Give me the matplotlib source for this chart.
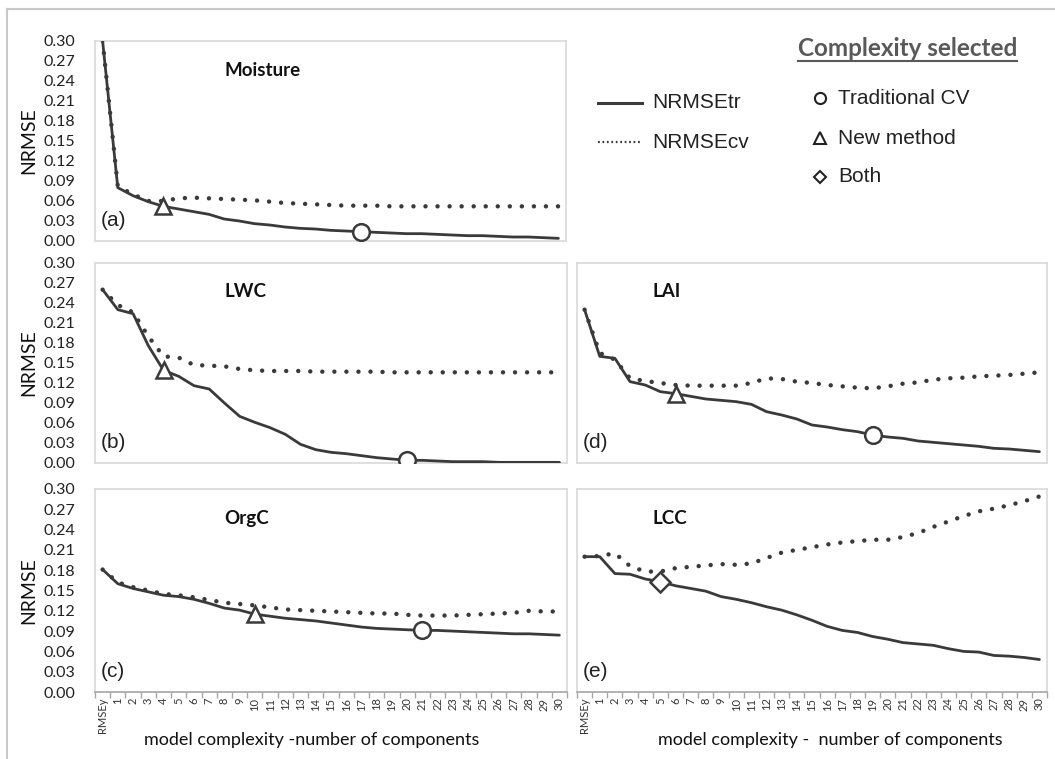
import numpy as np
import matplotlib
matplotlib.use("Agg")
import matplotlib.pyplot as plt

# categories on the x axis
cats = ["RMSEy"] + [str(i) for i in range(1, 31)]

# (a) Moisture
moist_tr = [0.300, 0.080, 0.068, 0.059, 0.052, 0.048, 0.044, 0.040, 0.033, 0.030, 0.026,
            0.024, 0.021, 0.019, 0.018, 0.016, 0.015, 0.014, 0.013, 0.012, 0.011,
            0.011, 0.010, 0.009, 0.008, 0.008, 0.007, 0.006, 0.006, 0.005, 0.004]
moist_cv = [0.300, 0.082, 0.070, 0.060, 0.060, 0.064, 0.065, 0.064, 0.063, 0.062, 0.061,
            0.059, 0.057, 0.056, 0.055, 0.054, 0.053, 0.053, 0.053, 0.052, 0.052,
            0.052, 0.052, 0.052, 0.052, 0.052, 0.052, 0.052, 0.052, 0.052, 0.052]
# (b) LWC
lwc_tr = [0.260, 0.230, 0.224, 0.176, 0.139, 0.130, 0.116, 0.111, 0.090, 0.070, 0.061,
          0.053, 0.043, 0.028, 0.020, 0.016, 0.014, 0.011, 0.008, 0.006, 0.004,
          0.004, 0.003, 0.002, 0.002, 0.002, 0.001, 0.001, 0.001, 0.001, 0.001]
lwc_cv = [0.260, 0.237, 0.226, 0.190, 0.160, 0.158, 0.147, 0.146, 0.145, 0.141, 0.139,
          0.138, 0.138, 0.138, 0.137, 0.137, 0.137, 0.137, 0.137, 0.136, 0.136,
          0.136, 0.136, 0.136, 0.136, 0.136, 0.136, 0.136, 0.136, 0.136, 0.136]
# (c) OrgC
orgc_tr = [0.181, 0.160, 0.153, 0.148, 0.143, 0.141, 0.137, 0.131, 0.124, 0.121, 0.115,
           0.112, 0.109, 0.107, 0.105, 0.102, 0.099, 0.096, 0.094, 0.093, 0.092,
           0.091, 0.091, 0.090, 0.089, 0.088, 0.087, 0.086, 0.086, 0.085, 0.084]
orgc_cv = [0.181, 0.162, 0.155, 0.150, 0.145, 0.143, 0.140, 0.136, 0.132, 0.130, 0.128,
           0.125, 0.122, 0.121, 0.120, 0.119, 0.118, 0.117, 0.116, 0.116, 0.114,
           0.113, 0.113, 0.113, 0.114, 0.115, 0.116, 0.117, 0.120, 0.119, 0.119]
# (d) LAI
lai_tr = [0.230, 0.160, 0.157, 0.122, 0.117, 0.107, 0.104, 0.100, 0.096, 0.094, 0.092,
          0.088, 0.077, 0.072, 0.066, 0.057, 0.054, 0.050, 0.047, 0.042, 0.039,
          0.037, 0.033, 0.031, 0.029, 0.027, 0.025, 0.022, 0.021, 0.019, 0.017]
lai_cv = [0.230, 0.165, 0.155, 0.127, 0.123, 0.120, 0.117, 0.116, 0.116, 0.116, 0.116,
          0.120, 0.127, 0.126, 0.122, 0.120, 0.117, 0.115, 0.113, 0.112, 0.115,
          0.119, 0.121, 0.125, 0.127, 0.128, 0.130, 0.131, 0.132, 0.134, 0.136]
# (e) LCC
lcc_tr = [0.200, 0.200, 0.175, 0.174, 0.167, 0.163, 0.157, 0.153, 0.149, 0.141, 0.137,
          0.132, 0.126, 0.121, 0.114, 0.106, 0.097, 0.091, 0.088, 0.082, 0.078,
          0.073, 0.071, 0.069, 0.064, 0.060, 0.059, 0.054, 0.053, 0.051, 0.048]
lcc_cv = [0.200, 0.201, 0.205, 0.186, 0.178, 0.178, 0.183, 0.185, 0.187, 0.189, 0.188,
          0.190, 0.198, 0.206, 0.210, 0.214, 0.218, 0.221, 0.223, 0.225, 0.225,
          0.229, 0.235, 0.244, 0.252, 0.260, 0.267, 0.271, 0.276, 0.282, 0.289]

titles = ["Moisture", "LWC", "OrgC", "LAI", "LCC"]
letters = ["(a)", "(b)", "(c)", "(d)", "(e)"]
tr_all = [moist_tr, lwc_tr, orgc_tr, lai_tr, lcc_tr]
cv_all = [moist_cv, lwc_cv, orgc_cv, lai_cv, lcc_cv]
# selected complexity: (traditional CV, new method); equal -> both
circle_idx = [17, 20, 21, 19, 5]
tri_idx = [4, 4, 10, 6, 5]

W, H = 1055, 759
fig = plt.figure(figsize=(W / 100, H / 100), dpi=100)

# panel boxes in pixels: left, right, top, bottom
boxes = [(95, 566, 41, 241), (95, 567, 263, 463), (95, 567, 489, 692),
         (577, 1047, 263, 463), (577, 1047, 489, 692)]

dark = "#3a3a3a"
grid_grey = "#d9d9d9"
x = np.arange(len(cats))

for k in range(5):
    l, r, t, b = boxes[k]
    ax = fig.add_axes([l / W, 1 - b / H, (r - l) / W, (b - t) / H])
    ax.plot(x, tr_all[k], color=dark, lw=2.0, solid_capstyle="round", zorder=3)
    ax.plot(x, cv_all[k], color=dark, lw=3.2, linestyle=(0, (0.01, 2.7)),
            dash_capstyle="round", zorder=2)
    ci, ti = circle_idx[k], tri_idx[k]
    if ci == ti:
        ax.plot(x[ci], tr_all[k][ci], marker="D", ms=10, mfc="white", mec=dark, mew=1.8, zorder=5)
    else:
        ax.plot(x[ci], tr_all[k][ci], marker="o", ms=12, mfc="white", mec=dark, mew=1.8, zorder=5)
        ax.plot(x[ti], tr_all[k][ti], marker="^", ms=12, mfc="white", mec=dark, mew=1.8, zorder=5)

    ax.set_xlim(-0.5, len(cats) - 0.5)
    ax.set_ylim(0, 0.30)
    for s in ax.spines.values():
        s.set_color(grid_grey)
        s.set_linewidth(1.2)
    ax.set_yticks(np.arange(0, 0.301, 0.03))
    if l < 300:
        ax.set_yticklabels(["%.2f" % v for v in np.arange(0, 0.301, 0.03)],
                           fontsize=11.5, family="Lato", color="#222222")
        ax.tick_params(axis="y", length=0, pad=14)
        ax.set_ylabel("NRMSE", fontsize=14, family="Lato", color="#111111")
        ax.yaxis.set_label_coords((37 - l) / (r - l), 0.5)
    else:
        ax.tick_params(axis="y", length=0, labelleft=False)

    if k in (2, 4):
        ax.set_xticks(x)
        ax.set_xticklabels(cats, rotation=90, fontsize=8, family="Lato", color="#333333")
        ax.set_xticks(np.arange(-0.5, len(cats)), minor=True)
        ax.tick_params(axis="x", which="major", length=0, pad=4)
        ax.tick_params(axis="x", which="minor", length=4, color="#a6a6a6", width=1)
        ax.spines["bottom"].set_color("#a6a6a6")
    else:
        ax.set_xticks([])

    ax.text((224 - l) / (r - l) if l < 300 else (652 - l) / (r - l), 0.855, titles[k],
            transform=ax.transAxes, fontsize=13.5, family="Lato", weight="bold",
            ha="left", va="center", color="#111111")
    ax.text(0.012, 0.1, letters[k], transform=ax.transAxes, fontsize=15,
            family="Liberation Sans", ha="left", va="center", color="#222222")

# overlay in pixel coordinates for frame, legend and labels
ov = fig.add_axes([0, 0, 1, 1], zorder=-1)
ov.set_xlim(0, W)
ov.set_ylim(H, 0)
ov.axis("off")
ov.plot([7, 7], [9, H], color="#c8c8c8", lw=1.5)
ov.plot([7, W], [9, 9], color="#c8c8c8", lw=1.5)

fig.text(312 / W, 1 - 740 / H, "model complexity -number of components",
         fontsize=13, family="Lato", ha="center", va="center", color="#111111")
fig.text(830 / W, 1 - 740 / H, "model complexity -  number of components",
         fontsize=13, family="Lato", ha="center", va="center", color="#111111")

lg = fig.add_axes([0, 0, 1, 1])
lg.set_xlim(0, W)
lg.set_ylim(H, 0)
lg.axis("off")
lg.plot([598, 642], [103, 103], color=dark, lw=2.2)
lg.plot([598, 642], [142, 142], color=dark, lw=1.6, linestyle=(0, (0.8, 1.2)))
lg.text(652, 103, "NRMSEtr", fontsize=15, family="Liberation Sans", va="center", color="#222222")
lg.text(652, 142, "NRMSEcv", fontsize=15, family="Liberation Sans", va="center", color="#222222")
lg.text(798, 48, "Complexity selected", fontsize=17.5, family="Lato", weight="bold",
        va="center", color="#595959")
lg.plot([798, 1017], [61, 61], color="#595959", lw=1.5)
lg.plot(820, 98, marker="o", ms=8, mfc="white", mec="#222222", mew=1.5)
lg.plot(820, 138, marker="^", ms=8, mfc="white", mec="#222222", mew=1.5)
lg.plot(820, 177, marker="D", ms=6.5, mfc="white", mec="#222222", mew=1.5)
lg.text(838, 98, "Traditional CV", fontsize=15, family="Liberation Sans", va="center", color="#222222")
lg.text(838, 138, "New method", fontsize=15, family="Liberation Sans", va="center", color="#222222")
lg.text(838, 177, "Both", fontsize=15, family="Liberation Sans", va="center", color="#222222")

fig.savefig("out.png", dpi=100)
